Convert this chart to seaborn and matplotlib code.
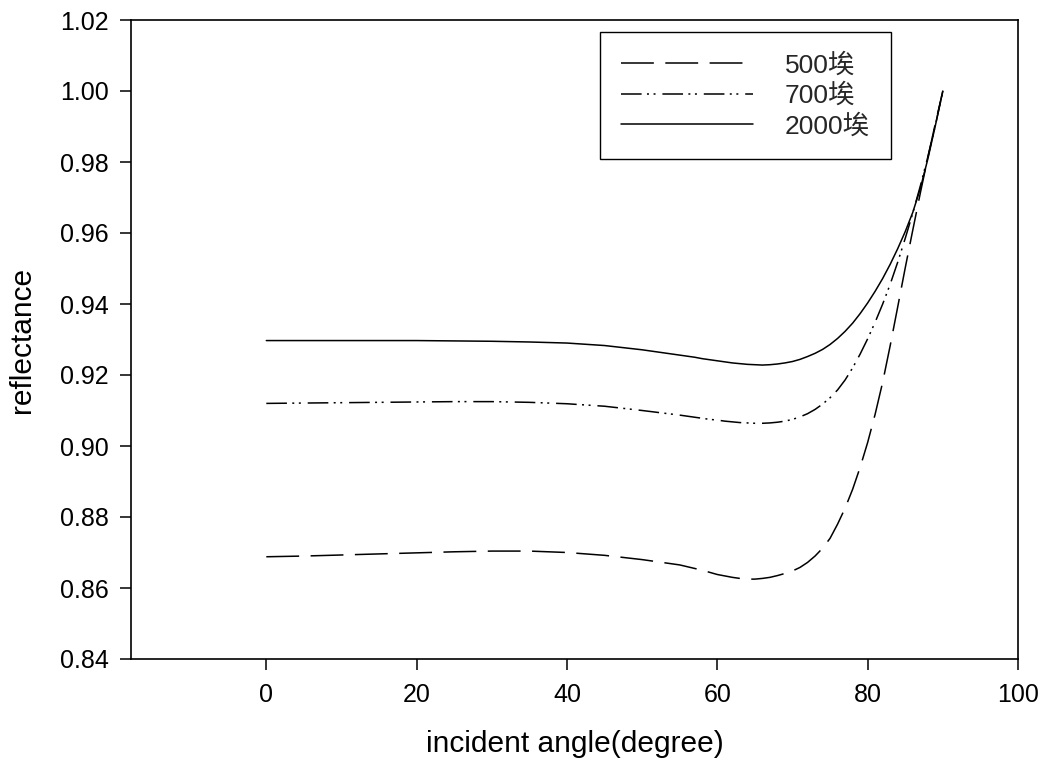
import matplotlib
matplotlib.use("Agg")
import matplotlib.pyplot as plt
import seaborn as sns
import pandas as pd

angles = [0, 5, 10, 15, 20, 25, 30, 35, 40, 45, 50, 55,
          56, 57, 58, 59, 60, 61, 62, 63, 64, 65, 66, 67, 68, 69, 70, 71, 72, 73, 74,
          75, 76, 77, 78, 79, 80, 81, 82, 83, 84, 85, 86, 87, 88, 89, 90]
r_500 = [0.8688, 0.8690, 0.8693, 0.8696, 0.8699, 0.8702, 0.8704, 0.8704, 0.8700, 0.8692, 0.8680, 0.8665,
         0.8660, 0.8655, 0.8650, 0.8644, 0.8638, 0.8634, 0.8630, 0.8627, 0.8625, 0.8625, 0.8627, 0.8630,
         0.8635, 0.8641, 0.8648, 0.8658, 0.8672, 0.8690, 0.8712,
         0.8740, 0.8780, 0.8825, 0.8878, 0.8940, 0.9010, 0.9090, 0.9180, 0.9283, 0.9392, 0.9502, 0.9608,
         0.9712, 0.9812, 0.9908, 1.0000]
r_700 = [0.9120, 0.9121, 0.9122, 0.9123, 0.9124, 0.9125, 0.9125, 0.9123, 0.9119, 0.9112, 0.9100, 0.9087,
         0.9084, 0.9081, 0.9078, 0.9075, 0.9073, 0.9070, 0.9068, 0.9066, 0.9065, 0.9064, 0.9064, 0.9065,
         0.9067, 0.9070, 0.9075, 0.9082, 0.9091, 0.9103, 0.9118,
         0.9136, 0.9158, 0.9186, 0.9220, 0.9259, 0.9302, 0.9349, 0.9400, 0.9456, 0.9518, 0.9585, 0.9656,
         0.9732, 0.9814, 0.9903, 1.0000]
r_2000 = [0.9297, 0.9297, 0.9297, 0.9297, 0.9297, 0.9296, 0.9295, 0.9293, 0.9290, 0.9283, 0.9271, 0.9256,
          0.9253, 0.9250, 0.9246, 0.9243, 0.9240, 0.9237, 0.9234, 0.9232, 0.9230, 0.9229, 0.9228, 0.9229,
          0.9231, 0.9234, 0.9238, 0.9244, 0.9252, 0.9261, 0.9272,
          0.9286, 0.9303, 0.9323, 0.9346, 0.9373, 0.9403, 0.9436, 0.9472, 0.9512, 0.9556, 0.9604, 0.9658,
          0.9725, 0.9808, 0.9902, 1.0000]
labels = ["500埃", "700埃", "2000埃"]
x_ticks = [0, 20, 40, 60, 80, 100]
y_ticks = [0.84, 0.86, 0.88, 0.90, 0.92, 0.94, 0.96, 0.98, 1.00, 1.02]

sns.set_theme(style="white")
plt.rcParams['font.family'] = ['Liberation Sans', 'Noto Sans CJK SC', 'DejaVu Sans']

rows = []
for lab, vals in zip(labels, [r_500, r_700, r_2000]):
    for a, v in zip(angles, vals):
        rows.append({"angle": a, "reflectance": v, "series": lab})
df = pd.DataFrame(rows)

fig = plt.figure(figsize=(10.45, 7.69), dpi=100)
ax = fig.add_axes([131 / 1045, 1 - 659 / 769, (1018 - 131) / 1045, (659 - 20) / 769])

lw = 1.1
dash_map = {
    "500埃": (21.5, 7.5),
    "700埃": (13.5, 3.5, 1.3, 3.0, 1.3, 4.5),
    "2000埃": "",
}
sns.lineplot(data=df, x="angle", y="reflectance", style="series", style_order=labels,
             dashes=dash_map, color="black", linewidth=lw, estimator=None, sort=True,
             legend=False, ax=ax)

ax.set_xlim(-18, 100)
ax.set_ylim(0.84, 1.02)
ax.set_xticks(x_ticks)
ax.set_xticklabels([str(t) for t in x_ticks])
ax.set_yticks(y_ticks)
ax.set_yticklabels([f"{t:.2f}" for t in y_ticks])
ax.tick_params(axis="both", direction="out", length=8, width=1.1, color="black",
               labelsize=18, labelcolor="black", left=True, bottom=True)
ax.tick_params(axis="x", pad=9)
ax.tick_params(axis="y", pad=8)
for sp in ax.spines.values():
    sp.set_visible(True)
    sp.set_color("black")
    sp.set_linewidth(1.2)

ax.set_xlabel("incident angle(degree)", fontsize=21.5, color="black", labelpad=17)
ax.set_ylabel("reflectance", fontsize=21.5, color="black", labelpad=17)

handles = ax.get_lines()[:3]
leg = ax.legend(handles, labels, loc="upper left",
                bbox_to_anchor=((600 - 131) / (1018 - 131), 1 - (32 - 20) / (659 - 20)),
                frameon=True, fancybox=False, shadow=False, fontsize=19,
                handlelength=5.0, handletextpad=1.2, labelspacing=0.22,
                borderpad=0.8, borderaxespad=0.0)
leg.get_frame().set_edgecolor("black")
leg.get_frame().set_linewidth(1.0)
leg.get_frame().set_alpha(1)

fig.savefig("out.png", dpi=100)
